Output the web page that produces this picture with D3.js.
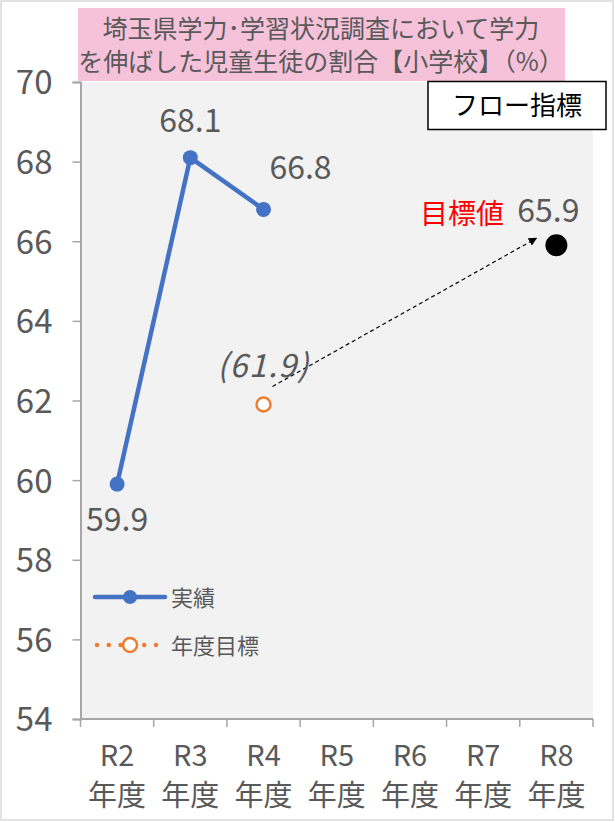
<!DOCTYPE html>
<html>
<head>
<meta charset="utf-8">
<script src="https://cdn.jsdelivr.net/npm/d3@7"></script>
<style>
  html, body { margin: 0; padding: 0; background: #fff; }
  svg { display: block; }
  text { font-family: "Noto Sans CJK JP", "Noto Sans", sans-serif; }
</style>
</head>
<body>
<svg id="chart" width="615" height="822"></svg>
<script>
// Fiscal-year categories
const categories = ["R2", "R3", "R4", "R5", "R6", "R7", "R8"];
const yearSuffix = "年度";

// 実績 (actual results)
const actualYears = ["R2", "R3", "R4"];
const actualValues = [59.9, 68.1, 66.8];

// 年度目標 (yearly target) and final target value
const targetYears = ["R4"];
const targetValues = [61.9];
const goalYear = "R8";
const goalValue = 65.9;

// Y-axis ticks
const yTicks = [54, 56, 58, 60, 62, 64, 66, 68, 70];

const titleLines = ["埼玉県学力･学習状況調査において学力", "を伸ばした児童生徒の割合【小学校】（%）"];

const svg = d3.select("#chart");
const grey = "#595959";
const blue = "#4472c4";
const orange = "#ed7d31";

const plot = { left: 80.5, right: 593, top: 82, bottom: 719 };

const x = d3.scaleBand().domain(categories).range([plot.left, plot.right]).padding(0);
const cx = c => x(c) + x.bandwidth() / 2;
const y = d3.scaleLinear().domain([54, 70]).range([plot.bottom, plot.top]);

// outer frame
svg.append("rect").attr("x", 1).attr("y", 1).attr("width", 612).attr("height", 819)
  .attr("fill", "none").attr("stroke", "#d9d9d9").attr("stroke-width", 1.5);

// plot background
svg.append("rect").attr("x", plot.left).attr("y", plot.top)
  .attr("width", plot.right - plot.left).attr("height", plot.bottom - plot.top)
  .attr("fill", "#f2f2f2");

// y axis
const yAxis = d3.axisLeft(y).tickValues(yTicks).tickSize(8).tickPadding(6);
const gy = svg.append("g").attr("transform", `translate(${plot.left},0)`).call(yAxis);
gy.select(".domain").attr("stroke", "#a6a6a6").attr("stroke-width", 2);
gy.selectAll(".tick line").attr("stroke", "#a6a6a6").attr("stroke-width", 1.5);
gy.selectAll(".tick text").attr("fill", grey).attr("font-size", 33)
  .attr("x", -28).attr("dy", "0.36em");

// x axis: line with ticks at category boundaries
const gx = svg.append("g");
gx.append("line").attr("x1", plot.left).attr("x2", plot.right)
  .attr("y1", plot.bottom).attr("y2", plot.bottom)
  .attr("stroke", "#a6a6a6").attr("stroke-width", 2);
const bounds = categories.map(c => x(c)).concat([x(categories[categories.length - 1]) + x.bandwidth()]);
gx.selectAll("line.tk").data(bounds).join("line").attr("class", "tk")
  .attr("x1", d => d).attr("x2", d => d)
  .attr("y1", plot.bottom).attr("y2", plot.bottom + 8)
  .attr("stroke", "#a6a6a6").attr("stroke-width", 1.5);
const xl = gx.selectAll("text.xl").data(categories).join("text").attr("class", "xl")
  .attr("text-anchor", "middle").attr("fill", grey).attr("font-size", 29);
xl.append("tspan").attr("x", d => cx(d)).attr("y", 766).text(d => d);
xl.append("tspan").attr("x", d => cx(d)).attr("y", 806).text(yearSuffix);

// title box
svg.append("rect").attr("x", 78).attr("y", 8).attr("width", 487).attr("height", 73)
  .attr("fill", "#f5c2d9");
svg.selectAll("text.title").data(titleLines).join("text").attr("class", "title")
  .attr("x", 321).attr("y", (d, i) => 38 + i * 33)
  .attr("text-anchor", "middle").attr("fill", grey).attr("font-size", 25)
  .text(d => d);

// フロー指標 box
svg.append("rect").attr("x", 428).attr("y", 81.5).attr("width", 178).attr("height", 48)
  .attr("fill", "#fff").attr("stroke", "#000").attr("stroke-width", 1.5);
svg.append("text").attr("x", 517).attr("y", 115).attr("text-anchor", "middle")
  .attr("font-size", 26).attr("fill", "#000").text("フロー指標");

// actual series
const actual = actualYears.map((c, i) => ({ c, v: actualValues[i] }));
svg.append("path").datum(actual)
  .attr("d", d3.line().x(d => cx(d.c)).y(d => y(d.v)))
  .attr("fill", "none").attr("stroke", blue).attr("stroke-width", 4.5)
  .attr("stroke-linejoin", "round");
svg.selectAll("circle.act").data(actual).join("circle").attr("class", "act")
  .attr("cx", d => cx(d.c)).attr("cy", d => y(d.v)).attr("r", 7.5).attr("fill", blue);

// actual value labels
const actLabelOffsets = { R2: [0, 47], R3: [0, -26], R4: [37, -30] };
svg.selectAll("text.actl").data(actual).join("text").attr("class", "actl")
  .attr("x", d => cx(d.c) + actLabelOffsets[d.c][0])
  .attr("y", d => y(d.v) + actLabelOffsets[d.c][1])
  .attr("text-anchor", "middle").attr("fill", grey).attr("font-size", 32)
  .text(d => d.v.toFixed(1));

// dashed arrow from yearly target to final goal
svg.append("defs").append("marker").attr("id", "arrow")
  .attr("viewBox", "0 0 10 10").attr("refX", 9).attr("refY", 5)
  .attr("markerWidth", 7).attr("markerHeight", 7).attr("orient", "auto")
  .append("path").attr("d", "M0,0L10,5L0,10z").attr("fill", "#000");
const t0 = { x: cx(targetYears[0]), y: y(targetValues[0]) };
const g1 = { x: cx(goalYear), y: y(goalValue) };
svg.append("line")
  .attr("x1", t0.x + 9).attr("y1", t0.y - 18)
  .attr("x2", g1.x - 20).attr("y2", g1.y - 7)
  .attr("stroke", "#000").attr("stroke-width", 1.2).attr("stroke-dasharray", "4,3")
  .attr("marker-end", "url(#arrow)");

// yearly target marker
const target = targetYears.map((c, i) => ({ c, v: targetValues[i] }));
svg.selectAll("circle.tgt").data(target).join("circle").attr("class", "tgt")
  .attr("cx", d => cx(d.c)).attr("cy", d => y(d.v)).attr("r", 7)
  .attr("fill", "#fff").attr("stroke", orange).attr("stroke-width", 2.5);
svg.selectAll("text.tgtl").data(target).join("text").attr("class", "tgtl")
  .attr("x", d => cx(d.c)).attr("y", d => y(d.v) - 27)
  .attr("text-anchor", "middle").attr("fill", grey).attr("font-size", 32)
  .attr("font-style", "italic").attr("letter-spacing", 1.5)
  .text(d => `(${d.v.toFixed(1)})`);

// final goal marker
svg.append("circle").attr("cx", g1.x).attr("cy", g1.y).attr("r", 11).attr("fill", "#000");
svg.append("text").attr("x", g1.x - 8).attr("y", g1.y - 23).attr("text-anchor", "middle")
  .attr("fill", grey).attr("font-size", 32).text(goalValue.toFixed(1));
svg.append("text").attr("x", 462).attr("y", 224).attr("text-anchor", "middle")
  .attr("fill", "#ff0000").attr("font-size", 28).text("目標値");

// legend
const lg = svg.append("g");
lg.append("line").attr("x1", 95).attr("x2", 165).attr("y1", 597).attr("y2", 597)
  .attr("stroke", blue).attr("stroke-width", 4.5).attr("stroke-linecap", "round");
lg.append("circle").attr("cx", 130).attr("cy", 597).attr("r", 7).attr("fill", blue);
lg.append("text").attr("x", 171).attr("y", 606).attr("fill", grey).attr("font-size", 22).text("実績");
lg.append("line").attr("x1", 97).attr("x2", 157).attr("y1", 645).attr("y2", 645)
  .attr("stroke", orange).attr("stroke-width", 4.5).attr("stroke-linecap", "round")
  .attr("stroke-dasharray", "0,11.8");
lg.append("circle").attr("cx", 130).attr("cy", 645).attr("r", 7)
  .attr("fill", "#fff").attr("stroke", orange).attr("stroke-width", 2.5);
lg.append("text").attr("x", 171).attr("y", 654).attr("fill", grey).attr("font-size", 22).text("年度目標");
</script>
</body>
</html>
